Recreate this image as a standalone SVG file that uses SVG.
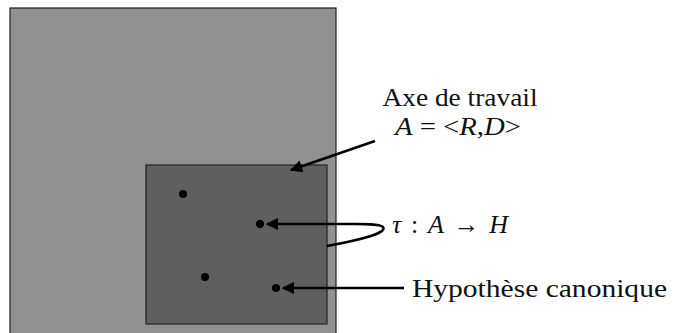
<svg xmlns="http://www.w3.org/2000/svg" width="678" height="333" viewBox="0 0 678 333">
<style>
.t{font-family:"Liberation Serif","Times New Roman",serif;font-size:26px;fill:#111}
.c{fill:none;stroke:#000;stroke-width:2.5}
.dot{fill:#000}
</style>
<defs>
<marker id="ah" viewBox="0 0 10 10" refX="9" refY="5" markerWidth="5" markerHeight="5" markerUnits="strokeWidth" orient="auto">
<path d="M0,0 L10,5 L0,10 z" fill="#000"/>
</marker>
</defs>
<rect width="678" height="333" fill="#fff"/>
<g id="outer"><rect x="10" y="8" width="326" height="340" fill="#909090" stroke="#222" stroke-width="1.2"/></g>
<g id="inner"><rect x="146" y="165" width="181" height="159" fill="#5f5f5f" stroke="#222" stroke-width="1.2"/></g>
<g id="points">
<circle class="dot" cx="183" cy="194" r="4"/>
<circle class="dot" cx="260" cy="224" r="4.2"/>
<circle class="dot" cx="205" cy="277" r="4"/>
<circle class="dot" cx="276" cy="288" r="4"/>
</g>
<g id="connectors">
<path class="c" d="M375,141 L291,170" marker-end="url(#ah)"/>
<path class="c" d="M327,246 C360,240 388,233 383,227 C380,224 370,224 355,224 L267,224" marker-end="url(#ah)"/>
<path class="c" d="M404,288 L283,288" marker-end="url(#ah)"/>
</g>
<g id="label-axe">
<text class="t" x="460" y="106" text-anchor="middle" textLength="155" lengthAdjust="spacingAndGlyphs">Axe de travail</text>
<text class="t" x="395" y="135" textLength="126" lengthAdjust="spacingAndGlyphs"><tspan font-style="italic">A</tspan> = &lt;<tspan font-style="italic">R</tspan>,<tspan font-style="italic">D</tspan>&gt;</text>
</g>
<g id="label-tau"><text class="t" x="392" y="233" textLength="116" lengthAdjust="spacing"><tspan font-style="italic">τ</tspan> : <tspan font-style="italic">A</tspan> → <tspan font-style="italic">H</tspan></text></g>
<g id="label-hyp"><text class="t" x="412" y="297" textLength="255" lengthAdjust="spacingAndGlyphs">Hypothèse canonique</text></g>
</svg>
